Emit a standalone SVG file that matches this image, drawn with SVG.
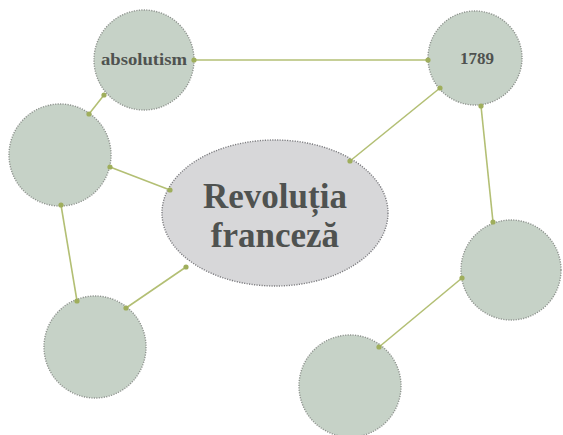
<svg xmlns="http://www.w3.org/2000/svg" width="563" height="435" viewBox="0 0 563 435">
<style>
.n{fill:#c6d2c7;stroke:#8f948f;stroke-width:1.4;stroke-dasharray:1.2 1.3}
.c{fill:#d7d7d9;stroke:#7d7d80;stroke-width:1.4;stroke-dasharray:1.2 1.3}
.e{stroke:#b3bf74;stroke-width:1.6;fill:none;marker-start:url(#d);marker-end:url(#d)}
.t{font-family:"Liberation Serif","Times New Roman",serif;font-weight:bold;fill:#4f5250;text-anchor:middle}
</style>
<defs>
<marker id="d" viewBox="0 0 6 6" refX="3" refY="3" markerWidth="6" markerHeight="6" markerUnits="userSpaceOnUse">
<circle cx="3" cy="3" r="2.6" fill="#9fae5c"/>
</marker>
</defs>
<rect width="563" height="435" fill="#fff"/>
<g id="absolutism">
<circle class="n" cx="144" cy="60" r="50"/>
<text class="t" x="144" y="65" font-size="16" textLength="86" lengthAdjust="spacingAndGlyphs">absolutism</text>
</g>
<g id="n1789">
<circle class="n" cx="475" cy="58" r="47"/>
<text class="t" x="477" y="64" font-size="17">1789</text>
</g>
<g id="left">
<circle class="n" cx="60" cy="155" r="51"/>
</g>
<g id="center">
<ellipse class="c" cx="275" cy="213" rx="113" ry="73"/>
<text class="t" x="275" y="208" font-size="35">Revoluția</text>
<text class="t" x="275" y="247" font-size="35">franceză</text>
</g>
<g id="bottomleft">
<circle class="n" cx="95" cy="347" r="51"/>
</g>
<g id="right">
<circle class="n" cx="511" cy="270" r="50"/>
</g>
<g id="bottom">
<circle class="n" cx="350" cy="386" r="51"/>
</g>
<g id="connectors">
<line class="e" x1="194" y1="60" x2="428" y2="60"/>
<line class="e" x1="104" y1="95" x2="89" y2="114"/>
<line class="e" x1="110" y1="167" x2="170" y2="190"/>
<line class="e" x1="61" y1="205" x2="77" y2="301"/>
<line class="e" x1="126" y1="308" x2="186" y2="267"/>
<line class="e" x1="350" y1="161" x2="440" y2="88"/>
<line class="e" x1="481" y1="106" x2="493" y2="222"/>
<line class="e" x1="462" y1="278" x2="379" y2="347"/>
</g>
</svg>
